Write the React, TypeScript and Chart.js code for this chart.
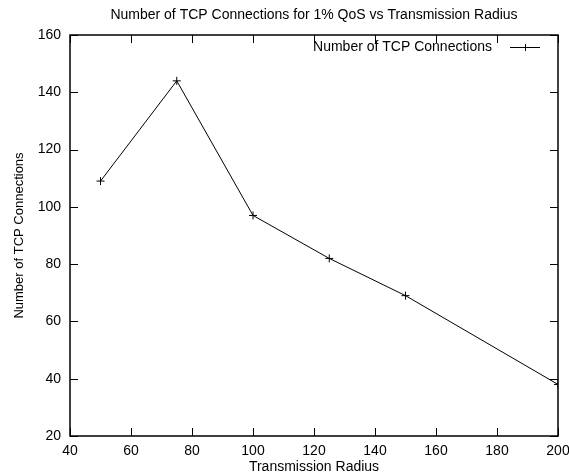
import React, { useEffect, useRef } from "react";
import { Chart, registerables } from "chart.js";

Chart.register(...registerables);

const radius = [50, 75, 100, 125, 150, 200];
const tcpConnections = [109, 144, 97, 82, 69, 38];
const seriesLabel = "Number of TCP Connections";
const chartTitle = "Number of TCP Connections for 1% QoS vs Transmission Radius";
const xTitle = "Transmission Radius";
const yTitle = "Number of TCP Connections";

const FONT = "'Liberation Sans', Arial, Helvetica, sans-serif";

const framePlugin = {
  id: "gnuplotFrame",
  afterDatasetsDraw(chart: any) {
    const { ctx, chartArea } = chart;
    const { left, right, top, bottom } = chartArea;
    const xs = chart.scales.x;
    const ys = chart.scales.y;
    const tl = 8;
    ctx.save();
    ctx.strokeStyle = "#000";
    ctx.lineWidth = 1;
    ctx.beginPath();
    xs.ticks.forEach((t: any) => {
      const px = Math.round(xs.getPixelForValue(t.value)) + 0.5;
      ctx.moveTo(px, bottom);
      ctx.lineTo(px, bottom - tl);
      ctx.moveTo(px, top);
      ctx.lineTo(px, top + tl);
    });
    ys.ticks.forEach((t: any) => {
      const py = Math.round(ys.getPixelForValue(t.value)) + 0.5;
      ctx.moveTo(left, py);
      ctx.lineTo(left + tl, py);
      ctx.moveTo(right, py);
      ctx.lineTo(right - tl, py);
    });
    ctx.stroke();
    ctx.lineWidth = 1.5;
    ctx.strokeRect(left, top, right - left, bottom - top);

    // legend
    const ly = top + 12;
    ctx.font = `14px ${FONT}`;
    ctx.fillStyle = "#000";
    ctx.textAlign = "right";
    ctx.textBaseline = "middle";
    ctx.fillText(seriesLabel, right - 66, ly);
    ctx.lineWidth = 1;
    ctx.beginPath();
    ctx.moveTo(right - 48, ly + 0.5);
    ctx.lineTo(right - 18, ly + 0.5);
    ctx.moveTo(right - 33 + 0.5, ly - 3);
    ctx.lineTo(right - 33 + 0.5, ly + 4);
    ctx.stroke();
    ctx.restore();
  },
};

export default function App() {
  const ref = useRef<HTMLCanvasElement>(null);
  useEffect(() => {
    const c = new Chart(ref.current!, {
      type: "line",
      data: {
        datasets: [
          {
            label: seriesLabel,
            data: radius.map((r, i) => ({ x: r, y: tcpConnections[i] })),
            borderColor: "#000",
            backgroundColor: "#000",
            borderWidth: 1,
            pointStyle: "cross",
            pointRadius: 4,
            pointBorderWidth: 1,
            pointBorderColor: "#000",
            tension: 0,
          },
        ],
      },
      options: {
        animation: false,
        responsive: false,
        layout: { padding: { top: 0, right: 11, bottom: 0, left: 0 } },
        plugins: {
          legend: { display: false },
          tooltip: { enabled: false },
          title: {
            display: true,
            text: chartTitle,
            fullSize: false,
            color: "#000",
            font: { family: FONT, size: 14, weight: "normal" },
            padding: { top: 6.5, bottom: 11.7 },
          },
        },
        scales: {
          x: {
            type: "linear",
            min: 40,
            max: 200,
            ticks: { stepSize: 20, color: "#000", font: { family: FONT, size: 14 }, padding: 7, maxRotation: 0 },
            grid: { display: false, drawTicks: false },
            border: { display: false },
            title: { display: true, text: xTitle, color: "#000", font: { family: FONT, size: 14 }, padding: { top: 0, bottom: 0 } },
            afterFit: (s: any) => { s.height = 40; s.paddingLeft = 0; s.paddingRight = 0; },
          },
          y: {
            type: "linear",
            min: 20,
            max: 160,
            ticks: { stepSize: 20, color: "#000", font: { family: FONT, size: 14 }, padding: 9 },
            grid: { display: false, drawTicks: false },
            border: { display: false },
            title: { display: true, text: yTitle, color: "#000", font: { family: FONT, size: 13 }, padding: { top: 12, bottom: 0 } },
            afterFit: (s: any) => { s.width = 70; s.paddingTop = 0; s.paddingBottom = 0; },
          },
        },
      },
      plugins: [framePlugin],
    });
    return () => c.destroy();
  }, []);
  return (
    <div style={{ position: "absolute", left: 0, top: 0, width: 569, height: 476, background: "#fff" }}>
      <canvas ref={ref} width={569} height={476} style={{ display: "block" }} />
    </div>
  );
}
